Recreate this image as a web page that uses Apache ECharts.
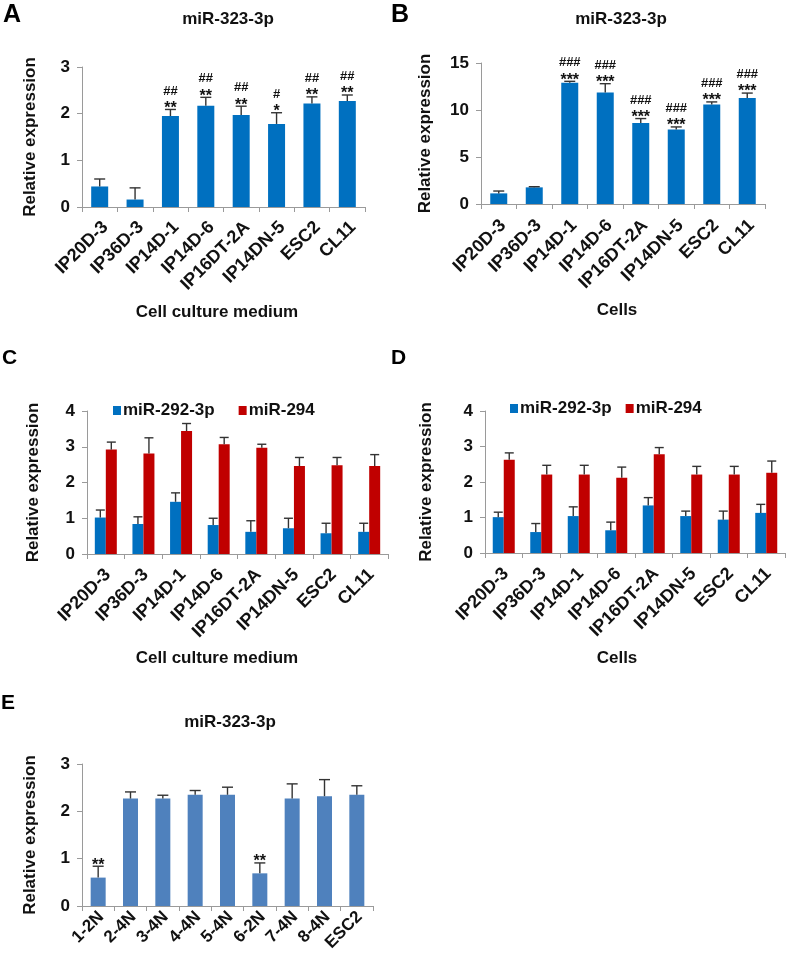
<!DOCTYPE html>
<html>
<head>
<meta charset="utf-8">
<script src="https://cdn.jsdelivr.net/npm/echarts@6/dist/echarts.min.js"></script>
<style>
  html, body { margin: 0; padding: 0; background: #fff; }
  #chart { width: 787px; height: 963px; }
</style>
</head>
<body>
<div id="chart"></div>
<script>
// categories
const cellLines = ['IP20D-3', 'IP36D-3', 'IP14D-1', 'IP14D-6', 'IP16DT-2A', 'IP14DN-5', 'ESC2', 'CL11']
const clones = ['1-2N', '2-4N', '3-4N', '4-4N', '5-4N', '6-2N', '7-4N', '8-4N', 'ESC2']

// A: miR-323-3p, cell culture medium
const aVals = [0.44, 0.16, 1.95, 2.17, 1.97, 1.78, 2.22, 2.27]
const aErr = [0.16, 0.25, 0.14, 0.18, 0.19, 0.24, 0.14, 0.13]
const aStars = ['', '', '**', '**', '**', '*', '**', '**']
const aHash = ['', '', '##', '##', '##', '#', '##', '##']

// B: miR-323-3p, cells
const bVals = [1.13, 1.77, 12.9, 11.85, 8.63, 7.92, 10.58, 11.28]
const bErr = [0.25, 0.07, 0.15, 0.95, 0.46, 0.28, 0.28, 0.52]
const bStars = ['', '', '***', '***', '***', '***', '***', '***']
const bHash = ['', '', '###', '###', '###', '###', '###', '###']

// C: cell culture medium
const cBlue = [1.02, 0.84, 1.46, 0.81, 0.62, 0.72, 0.58, 0.62]
const cBlueErr = [0.21, 0.20, 0.25, 0.19, 0.31, 0.28, 0.28, 0.24]
const cRed = [2.92, 2.81, 3.44, 3.07, 2.97, 2.46, 2.48, 2.46]
const cRedErr = [0.21, 0.44, 0.21, 0.19, 0.10, 0.24, 0.22, 0.32]

// D: cells
const dBlue = [1.01, 0.59, 1.04, 0.64, 1.34, 1.04, 0.94, 1.13]
const dBlueErr = [0.14, 0.24, 0.26, 0.23, 0.22, 0.14, 0.24, 0.24]
const dRed = [2.63, 2.21, 2.21, 2.12, 2.78, 2.21, 2.21, 2.26]
const dRedErr = [0.19, 0.26, 0.26, 0.30, 0.19, 0.23, 0.23, 0.33]

// E: miR-323-3p, clones
const eVals = [0.60, 2.27, 2.27, 2.35, 2.35, 0.69, 2.27, 2.32, 2.35]
const eErr = [0.24, 0.14, 0.07, 0.09, 0.16, 0.22, 0.31, 0.35, 0.19]
const eStars = ['**', '', '', '', '', '**', '', '', '']

const FONT = "'Liberation Sans', Arial, sans-serif"
const BLUE = '#0070C0'
const RED = '#C00000'
const EBLUE = '#4F81BD'
const AXIS = '#9a9a9a'

function xAxisOf (grid, cats, size, margin, shift) {
  return {
    type: 'category',
    gridIndex: grid,
    data: cats,
    axisLine: { lineStyle: { color: AXIS, width: 1 } },
    axisTick: { show: true, length: 5, lineStyle: { color: AXIS } },
    axisLabel: {
      interval: 0,
      rotate: 45,
      margin: margin,
      padding: [0, -shift, 0, 0],
      color: '#111',
      fontFamily: FONT,
      fontWeight: 'bold',
      fontSize: size
    },
    splitLine: { show: false }
  }
}

function yAxisOf (grid, max, interval, gap) {
  return {
    type: 'value',
    gridIndex: grid,
    min: 0,
    max: max,
    interval: interval,
    name: 'Relative expression',
    nameLocation: 'middle',
    nameGap: gap,
    nameTextStyle: { color: '#111', fontFamily: FONT, fontWeight: 'bold', fontSize: 17 },
    axisLine: { show: true, lineStyle: { color: AXIS, width: 1 } },
    axisTick: { show: true, length: 5, lineStyle: { color: AXIS } },
    axisLabel: { margin: 12, color: '#111', fontFamily: FONT, fontWeight: 'bold', fontSize: 17 },
    splitLine: { show: false }
  }
}

function barSeries (grid, name, vals, color, width) {
  return {
    type: 'bar',
    name: name,
    xAxisIndex: grid,
    yAxisIndex: grid,
    data: vals,
    barWidth: width,
    barGap: '0%',
    itemStyle: { color: color },
    silent: true
  }
}

// error bar (upper only) + significance marks
function errSeries (grid, vals, errs, offset, cap, stars, hashes) {
  return {
    type: 'custom',
    xAxisIndex: grid,
    yAxisIndex: grid,
    z: 10,
    silent: true,
    data: vals.map((v, i) => [i, v, errs[i]]),
    renderItem: function (params, api) {
      let i = api.value(0)
      let v = api.value(1)
      let e = api.value(2)
      let base = api.coord([i, v])
      let top = api.coord([i, v + e])
      let x = base[0] + offset
      let lineStyle = { stroke: '#333', lineWidth: 1.4 }
      let children = [
        { type: 'line', shape: { x1: x, y1: base[1], x2: x, y2: top[1] }, style: lineStyle },
        { type: 'line', shape: { x1: x - cap, y1: top[1], x2: x + cap, y2: top[1] }, style: lineStyle }
      ]
      let s = stars ? stars[params.dataIndex] : ''
      let h = hashes ? hashes[params.dataIndex] : ''
      if (s) {
        children.push({
          type: 'text',
          style: { text: s, x: x, y: top[1] + 7, textAlign: 'center', textVerticalAlign: 'bottom', font: 'bold 16px ' + FONT, fill: '#111' }
        })
      }
      if (h) {
        children.push({
          type: 'text',
          style: { text: h, x: x, y: top[1] - 12, textAlign: 'center', textVerticalAlign: 'bottom', font: 'bold 13px ' + FONT, fill: '#111' }
        })
      }
      return { type: 'group', children: children }
    }
  }
}

function label (text, x, y, size) {
  return {
    type: 'text',
    x: x,
    y: y,
    style: { text: text, font: 'bold ' + size + 'px ' + FONT, fill: '#111', textAlign: 'center', textVerticalAlign: 'middle' }
  }
}

function letter (text, x, y, size) {
  return {
    type: 'text',
    x: x,
    y: y,
    style: { text: text, font: 'bold ' + size + 'px ' + FONT, fill: '#000', textAlign: 'left', textVerticalAlign: 'top' }
  }
}

const chart = echarts.init(document.getElementById('chart'), null, { renderer: 'canvas' })

const option = {
  animation: false,
  backgroundColor: '#fff',
  grid: [
    { left: 82, top: 67, width: 283, height: 140 },
    { left: 481, top: 63, width: 284, height: 141 },
    { left: 87, top: 411, width: 301, height: 143 },
    { left: 485, top: 411, width: 300, height: 142 },
    { left: 82, top: 764, width: 291, height: 142 }
  ],
  legend: [
    {
      data: ['miR-292-3p', 'miR-294'],
      left: 108,
      top: 397,
      icon: 'rect',
      itemWidth: 8,
      itemHeight: 9,
      itemGap: 24,
      selectedMode: false,
      textStyle: { color: '#111', fontFamily: FONT, fontWeight: 'bold', fontSize: 17, padding: [0, 0, 0, -3] }
    },
    {
      data: ['miR-292-3p', 'miR-294'],
      left: 505,
      top: 395,
      icon: 'rect',
      itemWidth: 8,
      itemHeight: 9,
      itemGap: 14,
      selectedMode: false,
      textStyle: { color: '#111', fontFamily: FONT, fontWeight: 'bold', fontSize: 17, padding: [0, 0, 0, -3] }
    }
  ],
  xAxis: [
    xAxisOf(0, cellLines, 18, 23, 8),
    xAxisOf(1, cellLines, 18, 23, 6),
    xAxisOf(2, cellLines, 18, 20, 3),
    xAxisOf(3, cellLines, 18, 20, 3),
    xAxisOf(4, clones, 17, 11, 4)
  ],
  yAxis: [
    yAxisOf(0, 3, 1, 43),
    yAxisOf(1, 15, 5, 47),
    yAxisOf(2, 4, 1, 45),
    yAxisOf(3, 4, 1, 50),
    yAxisOf(4, 3, 1, 43)
  ],
  series: [
    barSeries(0, 'A', aVals, BLUE, 17),
    errSeries(0, aVals, aErr, 0, 5.5, aStars, aHash),
    barSeries(1, 'B', bVals, BLUE, 17),
    errSeries(1, bVals, bErr, 0, 5.5, bStars, bHash),
    barSeries(2, 'miR-292-3p', cBlue, BLUE, 11),
    barSeries(2, 'miR-294', cRed, RED, 11),
    errSeries(2, cBlue, cBlueErr, -5.5, 4.5),
    errSeries(2, cRed, cRedErr, 5.5, 4.5),
    barSeries(3, 'miR-292-3p', dBlue, BLUE, 11),
    barSeries(3, 'miR-294', dRed, RED, 11),
    errSeries(3, dBlue, dBlueErr, -5.5, 4.5),
    errSeries(3, dRed, dRedErr, 5.5, 4.5),
    barSeries(4, 'E', eVals, EBLUE, 15),
    errSeries(4, eVals, eErr, 0, 5.5, eStars)
  ],
  graphic: [
    letter('A', 3, 3, 25),
    letter('B', 391, 3, 25),
    letter('C', 2, 348, 21),
    letter('D', 391, 348, 21),
    letter('E', 1, 693, 21),
    label('miR-323-3p', 228, 19, 17),
    label('miR-323-3p', 621, 19, 17),
    label('miR-323-3p', 230, 722, 17),
    label('Cell culture medium', 217, 312, 17),
    label('Cells', 617, 310, 17),
    label('Cell culture medium', 217, 658, 17),
    label('Cells', 617, 658, 17)
  ]
}

chart.setOption(option)
</script>
</body>
</html>
